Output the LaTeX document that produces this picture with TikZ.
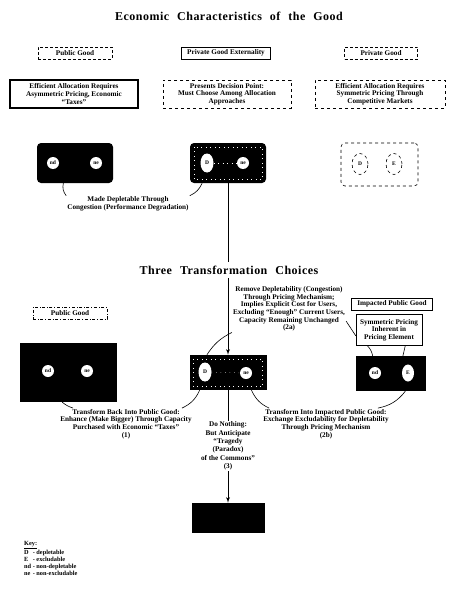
\documentclass[tikz,border=0pt]{standalone}
\usepackage{fontspec}
\setmainfont{Liberation Serif}
\newfontfamily\headfont[LetterSpace=4]{Liberation Serif}
\usepackage{tikz}
\usetikzlibrary{arrows,positioning,shapes.geometric}

\begin{document}
\begin{tikzpicture}[
    x=1pt, y=-1pt,
    >=latex',
    font=\bfseries\fontsize{7.2}{7.6}\selectfont,
    heading/.style={
		font={\headfont\bfseries\fontsize{12}{14}\selectfont\spaceskip=8pt},
		fill=white,
		inner sep=4pt
	},
	kind/.style={
		rectangle,
		draw=black,
		densely dashed,
		minimum height=12pt,
		inner sep=2pt
	},
	note/.style={
		rectangle,
		draw=black,
		align=center,
		minimum width=128pt,
		minimum height=28pt,
		inner sep=1pt
	},
	good/.style={
		rectangle,
		fill=black,
		minimum width=76pt,
		minimum height=40pt
	},
	prop/.style={
		circle,
		fill=white,
		inner sep=0pt,
		minimum size=12pt,
		font=\bfseries\fontsize{5.5}{6}\selectfont
	},
	tallprop/.style={
		prop,
		ellipse,
		minimum width=13pt,
		minimum height=19pt
	},
	remark/.style={
		align=center,
		inner sep=1pt
	},
	link/.style={
		line width=0.6pt
	},
	speckle/.style={
		white,
		line width=0.5pt,
		loosely dotted
	}
  ]
  \useasboundingbox (0,0) rectangle (453,591);

  % characteristics of the good
  \node [kind, minimum width=74pt] (pubtag) at (75,53) {Public Good};
  \node [kind, solid, minimum width=89pt] (exttag) at (226,53) {Private Good Externality};
  \node [kind, minimum width=73pt] (privtag) at (381,53) {Private Good};

  \node [note, line width=1.5pt] (pubnote) at (74,94)
 {Efficient Allocation Requires\\ Asymmetric Pricing, Economic\\ ``Taxes''};
  \node [note, dashed] (extnote) at (227,94)
 {Presents Decision Point:\\ Must Choose Among Allocation\\ Approaches};
  \node [note, dashed, minimum width=130pt] (privnote) at (380,94)
 {Efficient Allocation Requires\\ Symmetric Pricing Through\\ Competitive Markets};

  \node [good, rounded corners=4pt] (pubgood) at (75,163) {};
  \node [prop] (pubnd) at (53,163) {nd};
  \node [prop] (pubne) at (96,163) {ne};

  \node [good, rounded corners=4pt] (extgood) at (228,163) {};
  \draw [speckle] ([shift={(4,4)}]extgood.north west) rectangle ([shift={(-4,-4)}]extgood.south east);
  \node [tallprop] (extd) at (207,163) {D};
  \node [prop] (extne) at (243,163) {ne};
  \draw [speckle] (extd) -- (extne);

  \node [good, fill=none, draw=black, dashed, line width=0.6pt, rounded corners=4pt, minimum width=77pt, minimum height=43pt] (privgood) at (379.5,164.5) {};
  \node [tallprop, draw=black, dashed, line width=0.6pt, minimum width=16pt, minimum height=21pt] (privd) at (360,164) {D};
  \node [tallprop, draw=black, dashed, line width=0.6pt, minimum width=16pt, minimum height=21pt] (prive) at (394,164) {E};

  \node [remark] (congest) at (128,204)
 {Made Depletable Through\\ Congestion (Performance Degradation)};
  \draw [link] (pubgood.240) to [bend right=25] (congest.north west);
  \draw [link] (extgood.218) to [bend left=20] (congest.north east);

  % the three choices
  \node [good] (choice) at (228,372.5) [minimum width=77pt, minimum height=35pt] {};
  \draw [->, line width=0.9pt] (extgood) -- (choice);
  \node [heading] (choices) at (229,270) {Three Transformation Choices};
  \node [heading, fill=none] (title) at (229,16) {Economic Characteristics of the Good};

  \draw [speckle] ([shift={(4,4)}]choice.north west) rectangle ([shift={(-4,-4)}]choice.south east);
  \node [tallprop] (choiced) at (205,372) {D};
  \node [prop] (choicene) at (246,373) {ne};
  \draw [speckle] (choiced) -- (choicene);

  \node [kind, dash dot, minimum width=74pt] (pubtag2) at (70,313) {Public Good};
  \node [good, minimum width=97pt, minimum height=59pt] (pubgood2) at (68.5,372.5) {};
  \node [prop] (pubnd2) at (48,371) {nd};
  \node [prop] (pubne2) at (87,371) {ne};

  \node [kind, solid, minimum width=81pt] (imptag) at (392,304) {Impacted Public Good};
  \node [note, solid, minimum width=66pt, minimum height=31pt] (symm) at (389,330)
 {Symmetric Pricing\\ Inherent in\\ Pricing Element};
  \node [good, minimum width=70pt, minimum height=35pt] (impgood) at (391,373.5) {};
  \node [prop] (impnd) at (375,373) {nd};
  \node [tallprop, minimum width=12pt, minimum height=17pt] (impe) at (408,373) {E};

  \node [remark] (remove) at (289,309)
 {Remove Depletability (Congestion)\\ Through Pricing Mechanism;\\ Implies Explicit Cost for Users,\\ Excluding ``Enough'' Current Users,\\ Capacity Remaining Unchanged\\ (2a)};
  \draw [link] (remove.south west) to [bend right=15] (choice.140);
  \draw [link] (remove.-12) -- (symm.190);
  \draw [link] (symm.216) to [bend left=15] (impgood.136);
  \draw [link] (symm.-44) -- (impgood.56);

  \node [remark] (back) at (126,424)
 {Transform Back Into Public Good:\\ Enhance (Make Bigger) Through Capacity\\ Purchased with Economic ``Taxes''\\ (1)};
  \node [remark, font=\bfseries\fontsize{7.2}{8.3}\selectfont] (nothing) at (228,446)
 {Do Nothing:\\ But Anticipate\\ ``Tragedy\\ (Paradox)\\ of the Commons''\\ (3)};
  \node [remark] (impact) at (326,424)
 {Transform Into Impacted Public Good:\\ Exchange Excludability for Depletability\\ Through Pricing Mechanism\\ (2b)};
  \node [good, minimum width=73pt, minimum height=30pt] (tragedy) at (228,518) {};

  \draw [link] (pubgood2.258) to [bend right=10] ([xshift=14pt]back.north west);
  \draw [link] (choice.212) to [bend left=20] ([xshift=-11pt]back.north east);
  \draw [line width=0.9pt] (choice) -- (nothing);
  \draw [->, line width=0.9pt] (nothing) -- (tragedy);
  \draw [link] (choice.-37) to [bend right=20] ([xshift=7pt]impact.north west);
  \draw [link] (impgood.-51) to [bend left=20] ([xshift=-12pt]impact.north east);

  % key
  \node [anchor=north west, inner sep=0pt, align=left, font=\bfseries\fontsize{6.3}{7}\selectfont] (key) at (24,541)
 {%
  \underline{Key:}\\
  \begin{tabular}{@{}l@{ - }l@{}}
  D & depletable\\
  E & excludable\\
  nd & non-depletable\\
  ne & non-excludable
  \end{tabular}
 };

\end{tikzpicture}
\end{document}
